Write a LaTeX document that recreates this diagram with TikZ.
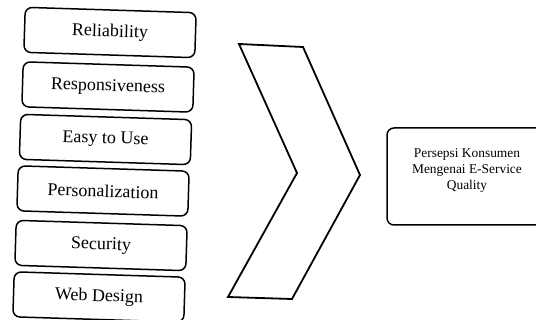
\documentclass[tikz,border=0pt]{standalone}
\usepackage{fontspec}
\setmainfont{Liberation Serif}
\begin{document}
\begin{tikzpicture}[x=1pt,y=-1pt,
  factor/.style={draw, line width=1.5pt, rounded corners=7pt,
    minimum width=171pt, minimum height=45pt, rotate=-1.8,
    font=\fontsize{18}{20}\selectfont, inner sep=0pt},
  outcome/.style={draw, line width=1.5pt, rounded corners=7pt,
    minimum width=160pt, minimum height=97pt, inner sep=0pt},
  chevron/.style={draw, line width=1.8pt, line join=miter}]
\useasboundingbox (0,0) rectangle (536,320);
\clip (0,0) rectangle (536,320);

% dimensions on the left
\node[factor] (rel) at (110,32.5) {Reliability};
\node[factor] (res) at (108,87) {Responsiveness};
\node[factor] (eas) at (105.5,139.5) {Easy to Use};
\node[factor] (per) at (103,191) {Personalization};
\node[factor] (sec) at (101,245.5) {Security};
\node[factor] (web) at (99,297) {Web Design};

% chevron
\coordinate (c1) at (239,44);
\coordinate (c2) at (303,47);
\coordinate (c3) at (360,175);
\coordinate (c4) at (292,299);
\coordinate (c5) at (228,297);
\coordinate (c6) at (297,173);
\draw[chevron] (c1) -- (c2) -- (c3) -- (c4) -- (c5) -- (c6) -- cycle;

% result box
\node[outcome] (out) at (467,176.5) {};
\node[align=center, font=\fontsize{13.4}{15.6}\selectfont, inner sep=0pt]
  (outtext) at (467,170.5)
  {Persepsi Konsumen\\Mengenai E-Service\\Quality};
\end{tikzpicture}
\end{document}
